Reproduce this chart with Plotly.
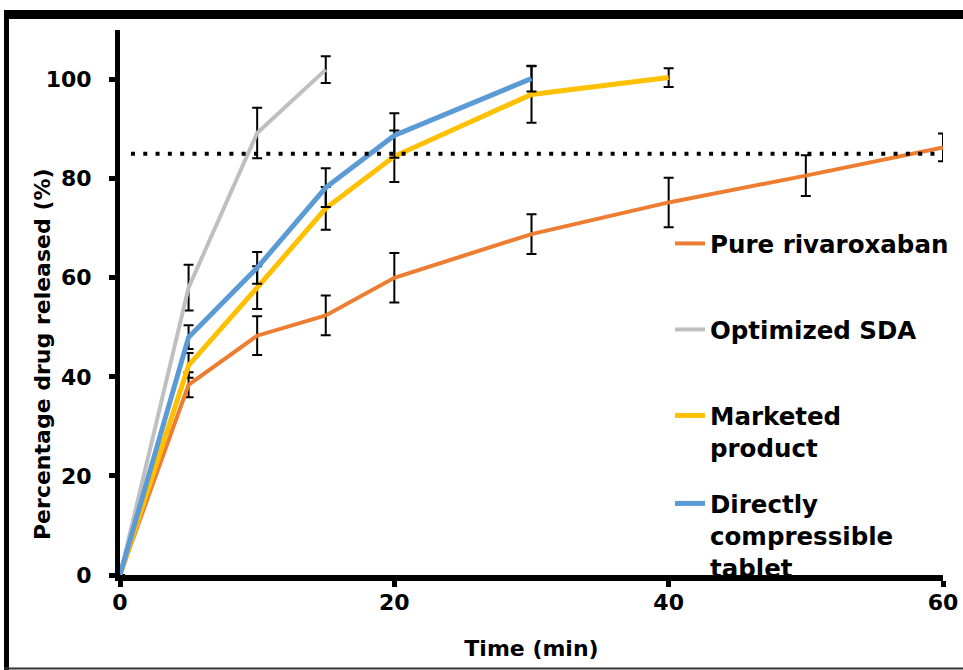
import plotly.graph_objects as go

# Dissolution profiles: cumulative % drug released vs time (min), mean ± SD
time_pure = [0, 5, 10, 15, 20, 30, 40, 50, 60]
pure_rivaroxaban = [0, 38.4, 48.3, 52.4, 60.0, 68.8, 75.2, 80.6, 86.3]
pure_sd = [0, 2.5, 3.9, 4.0, 5.0, 4.0, 5.0, 4.1, 2.8]

time_sda = [0, 5, 10, 15]
optimized_sda = [0, 58.0, 89.2, 102.0]
sda_sd = [0, 4.6, 5.1, 2.7]

time_marketed = [0, 5, 10, 15, 20, 30, 40]
marketed_product = [0, 42.3, 58.0, 74.0, 84.5, 97.0, 100.4]
marketed_sd = [0, 2.5, 4.3, 4.3, 5.2, 5.7, 1.9]

time_tablet = [0, 5, 10, 15, 20, 30]
dc_tablet = [0, 48.0, 62.0, 78.2, 88.7, 100.2]
tablet_sd = [0, 2.4, 3.2, 3.9, 4.5, 2.6]

threshold = 85  # 85 % release reference level

series = [
    ("Pure rivaroxaban", time_pure, pure_rivaroxaban, pure_sd, "#ED7D31", 4, "legend"),
    ("Optimized SDA", time_sda, optimized_sda, sda_sd, "#BFBFBF", 4, "legend2"),
    ("Marketed<br>product", time_marketed, marketed_product, marketed_sd, "#FFC000", 5, "legend3"),
    ("Directly<br>compressible<br>tablet", time_tablet, dc_tablet, tablet_sd, "#5B9BD5", 5, "legend4"),
]

FONT = "DejaVu Sans"

fig = go.Figure()
for name, t, vals, sd, color, lw, leg in series:
    fig.add_trace(go.Scatter(
        x=t, y=vals, name=name, mode="lines",
        line=dict(color=color, width=lw),
        error_y=dict(type="data", array=sd, visible=True,
                     color="black", thickness=2, width=5),
        legend=leg,
    ))

# dotted 85 % reference line
fig.add_shape(type="line", xref="x", yref="y",
              x0=0.8, x1=60, y0=threshold, y1=threshold,
              line=dict(color="black", width=4, dash="4px,8.3px"))

# outer frame
fig.add_shape(type="line", xref="paper", yref="paper",
              x0=(4 - 120) / 823, x1=(990 - 120) / 823,
              y0=(575 - 14.5) / 545, y1=(575 - 14.5) / 545,
              line=dict(color="black", width=9))
fig.add_shape(type="line", xref="paper", yref="paper",
              x0=(6.5 - 120) / 823, x1=(6.5 - 120) / 823,
              y0=(575 - 10) / 545, y1=(575 - 690) / 545,
              line=dict(color="black", width=5))
fig.add_shape(type="line", xref="paper", yref="paper",
              x0=(4 - 120) / 823, x1=(990 - 120) / 823,
              y0=(575 - 668.5) / 545, y1=(575 - 668.5) / 545,
              line=dict(color="#333333", width=2))

# y-axis title
fig.add_annotation(text="Percentage drug released (%)", textangle=-90,
                   xref="paper", yref="paper",
                   x=(42 - 120) / 823, y=(575 - 354) / 545,
                   xanchor="center", yanchor="middle",
                   showarrow=False,
                   font=dict(family=FONT, size=22, weight="bold", color="black"))

legend_font = dict(family=FONT, size=24.5, weight="bold", color="black")
leg_common = dict(xanchor="left", yanchor="top", bgcolor="rgba(0,0,0,0)",
                  font=legend_font, valign="top", borderwidth=0)
legend_x = (670 - 120) / 823
legend_tops = [221, 307, 393, 481]

fig.update_layout(
    width=963, height=670,
    margin=dict(l=120, r=20, t=30, b=95, autoexpand=False),
    paper_bgcolor="white", plot_bgcolor="white",
    showlegend=True,
    legend=dict(x=legend_x, y=(575 - legend_tops[0]) / 545, **leg_common),
    legend2=dict(x=legend_x, y=(575 - legend_tops[1]) / 545, **leg_common),
    legend3=dict(x=legend_x, y=(575 - legend_tops[2]) / 545, **leg_common),
    legend4=dict(x=legend_x, y=(575 - legend_tops[3]) / 545, **leg_common),
    xaxis=dict(
        range=[0, 60], tickvals=[0, 20, 40, 60],
        showgrid=False, zeroline=False, automargin=False,
        showline=True, linecolor="black", linewidth=6,
        ticks="outside", ticklen=6, tickwidth=5, tickcolor="black",
        ticklabelstandoff=-3,
        tickfont=dict(family=FONT, size=22, weight="bold", color="black"),
        title=dict(text="Time (min)", standoff=28,
                   font=dict(family=FONT, size=22, weight="bold", color="black")),
    ),
    yaxis=dict(
        range=[0, 110], tickvals=[0, 20, 40, 60, 80, 100],
        showgrid=False, zeroline=False, automargin=False,
        showline=True, linecolor="black", linewidth=5,
        ticks="outside", ticklen=6, tickwidth=5, tickcolor="black",
        ticklabelstandoff=13,
        tickfont=dict(family=FONT, size=22, weight="bold", color="black"),
    ),
)

fig.write_html("out.html")
